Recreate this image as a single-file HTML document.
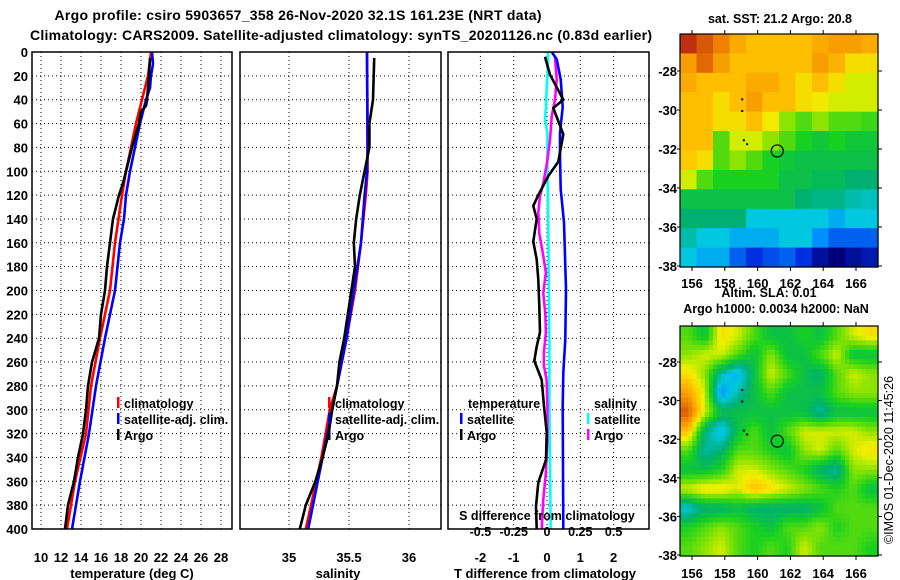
<!DOCTYPE html>
<html><head><meta charset="utf-8"><style>
html,body{margin:0;padding:0;background:#fff;}
svg{display:block;font-family:"Liberation Sans",sans-serif;font-weight:bold;}
</style></head><body>
<svg id="fig" width="900" height="580" viewBox="0 0 900 580" xmlns="http://www.w3.org/2000/svg">
<text x="298" y="20" text-anchor="middle" font-size="14" textLength="487">Argo profile: csiro 5903657_358 26-Nov-2020 32.1S 161.23E (NRT data)</text>
<text x="341" y="40" text-anchor="middle" font-size="14" textLength="622">Climatology: CARS2009. Satellite-adjusted climatology: synTS_20201126.nc (0.83d earlier)</text>
<g id="layer"></g>
</svg>
<script>
// ---------- data ----------
const depthTicks=[0,20,40,60,80,100,120,140,160,180,200,220,240,260,280,300,320,340,360,380,400];
const tempTicks=[10,12,14,16,18,20,22,24,26,28];
const salTicks=[35,35.5,36];
const diffTicks=[-2,-1,0,1,2];
const sdiffTicks=[-0.5,-0.25,0,0.25,0.5];

const argoTDepth=[5,20,40,45,50,60,80,100,110,120,130,140,160,180,200,220,240,260,280,300,320,340,360,380,400];
const argoTemp=[20.9,20.8,20.6,20.5,20.0,19.8,19.1,18.5,18.2,17.8,17.5,17.2,16.9,16.6,16.4,16.0,15.8,15.1,14.7,14.5,14.2,13.7,13.3,12.7,12.4];
const climTDepth=[0,20,40,60,80,100,120,160,200,240,280,320,360,400];
const climTemp=[21.0,20.7,20.1,19.5,19.0,18.5,18.1,17.4,16.9,15.9,15.0,14.5,13.4,12.6];
const satTDepth=[0,10,20,30,40,60,80,100,120,140,160,200,240,280,320,360,400];
const satTemp=[21.1,21.2,21.0,20.9,20.5,19.9,19.4,18.9,18.5,18.3,17.9,17.4,16.4,15.5,14.8,13.9,13.1];

const argoSDepth=[5,40,60,80,100,120,140,160,180,200,220,240,260,280,300,320,340,360,380,400];
const argoSal=[35.71,35.70,35.67,35.67,35.63,35.59,35.56,35.54,35.55,35.52,35.49,35.46,35.42,35.40,35.36,35.33,35.28,35.22,35.14,35.09];
const climSDepth=[0,100,120,160,200,240,280,300,340,400];
const climSal=[35.65,35.655,35.64,35.60,35.55,35.48,35.40,35.34,35.27,35.14];
const satSDepth=[0,80,100,120,160,200,240,280,320,360,400];
const satSal=[35.65,35.656,35.65,35.63,35.60,35.54,35.48,35.40,35.32,35.24,35.16];

const dTDepthSat=[0,6,23,46,68,87,115,143,199,241,269,297,400];
const dTSat=[0.14,0.29,0.41,0.47,0.39,0.39,0.41,0.51,0.57,0.55,0.49,0.47,0.49];
const dTDepthArgo=[4,19,40,47,69,92,104,120,129,140,159,174,191,213,235,247,259,275,297,319,342,361,381,400];
const dTArgo=[-0.06,0.09,0.49,0.19,0.49,0.34,0.04,-0.26,-0.41,-0.31,-0.41,-0.31,-0.26,-0.23,-0.21,-0.31,-0.38,-0.16,-0.09,-0.01,-0.03,-0.26,-0.33,-0.31];
const dSDepthSat=[0,18,46,57,68,101,129,185,241,297,353,400];
const dSSat=[0.01,0.003,-0.008,-0.015,0.003,0.003,0.008,0.013,0.018,0.018,0.023,0.028];
const dSDepthArgo=[4,23,40,54,73,93,110,121,135,152,171,185,202,219,235,252,263,275,297,325,353,375,400];
const dSArgo=[0.06,0.073,0.06,0.035,0.023,0,-0.028,-0.053,-0.065,-0.058,-0.028,-0.008,-0.028,-0.013,-0.008,-0.023,-0.023,-0.003,0.003,0.003,-0.008,-0.028,-0.04];

const lonTicks=[156,158,160,162,164,166];
const latTicks=[-28,-30,-32,-34,-36,-38];
const sstGrid=[
[10,9.5,9,8.3,8,8,8,8,8.3,8.5,8.5,8.3],
[8.5,9.3,8.5,8,8,8,8,8,8.5,8.2,7.5,7.5],
[8.3,8,8,8,8.3,8.3,8,7.5,8,7.5,7,7],
[8,8,7.5,8,8.5,8,8,7.5,7.3,7,7,7],
[8,8,7.5,7.5,8,7.3,6.5,6,6.5,6,6,5.8],
[8,8,6,7,7,6.5,6,5.5,5.2,5.5,5.2,5.2],
[7.8,7.5,6,6.5,6,5.5,5.2,5,5,5,5,5],
[7,6,5.5,5.5,5.5,5.5,5,5,4.8,4.8,4.5,4.5],
[5,5,5,5,5,5,5,4.5,4.3,4.3,4,3.8],
[4.5,4.5,4.5,4.5,3.5,3.5,3.5,3.5,3.5,3,3.5,3.5],
[4,3.5,3.5,3,3,3,3.5,3.5,2.5,2,2,2],
[3.5,3,3,2,1.5,1.8,2,1.5,0.5,0,0.5,0.8]];
const slaGrid=[
[6,5,7.5,7,6,5,5,5.5,5,6,7,7.5],
[6.5,7,7,6,5,6.5,5,5,6,7,5,5],
[7.5,6.5,4,3,5,7,6,5,4.5,6,7,6.5],
[8.5,7,2.5,4,5,6,5,5,5,6,6.5,6.5],
[9.5,7,5,5,5,5,5,5,4,5,5,5],
[8,4.5,3,5,6,5,6,7,7,7,7,6.5],
[6,4,4.5,6,6,5.5,5,6.5,7,6,7,7.5],
[5,5,5.5,7,7,6.5,6,5.5,4.5,4,6.5,6.5],
[7,7.5,7.5,7,8,7.5,7,6.5,6,5.5,6,5],
[3.5,4.5,4.5,5,4.5,4.5,4.5,4.5,5,6,6,6],
[5.5,6,6.5,6,5.5,5,6,6,6.5,5.5,6,6],
[6,6.5,7,6,5.5,6,5.5,7,6,6,6,5.5]];
const floatLon=161.2, floatLat=-32.1;

// ---------- helpers ----------
const NS="http://www.w3.org/2000/svg";
const L=document.getElementById('layer');
function mk(tag,attrs,parent){const e=document.createElementNS(NS,tag);for(const k in attrs)e.setAttribute(k,attrs[k]);(parent||L).appendChild(e);return e;}
function txt(x,y,s,size,anchor,parent){const t=mk('text',{x:x,y:y,'font-size':size,'text-anchor':anchor||'middle'},parent);t.textContent=s;return t;}
const yD=d=>52+d*477/400;
const xT=t=>41+(t-10)*10;
const xS=s=>289+(s-35)*120;
const xDT=v=>547+v*33.3;
const xDS=v=>547+v*4*33.3;

function panel(x0,x1,name,vt,xf,lbl){
  const g=mk('g',{});
  
  
  depthTicks.forEach(d=>{if(d>0&&d<400){const l=mk('line',{x1:x0,x2:x1,y1:yD(d),y2:yD(d),stroke:'#000','stroke-width':1,'stroke-dasharray':'1,3'},g);
    }});
  vt.forEach(v=>{const l=mk('line',{x1:xf(v),x2:xf(v),y1:52,y2:529,stroke:'#000','stroke-width':1,'stroke-dasharray':'1,3'},g);
    
    const t=txt(xf(v),562,lbl(v),13,'middle',g);
    });
  return g;
}
function frame(x0,x1,g){const r=mk('rect',{x:x0,y:52,width:x1-x0,height:477,fill:'none',stroke:'#000','stroke-width':1.5},g);
  }
function line(xs,ds,xf,color,name,g){
  const pts=xs.map((v,i)=>xf(v).toFixed(1)+','+yD(ds[i]).toFixed(1)).join(' ');
  const p=mk('polyline',{points:pts,fill:'none',stroke:color,'stroke-width':2.6,'stroke-linejoin':'round'},g);
  
}
function legItem(x,y,color,label,name,g){
  const m=mk('rect',{x:x,y:y-11,width:2.5,height:11,fill:color},g);
  
  const t=txt(x+7,y,label,12.5,'start',g);
  
}

// depth axis labels
depthTicks.forEach(d=>{const t=txt(28,yD(d)+5,String(d),13,'end');
  });

// panel 1 temperature
const g1=panel(32,232,'temperature-panel',tempTicks,xT,v=>String(v));
line(climTemp,climTDepth,xT,'#ff0000','climatology-temp-line',g1);
line(satTemp,satTDepth,xT,'#0000ff','satellite-temp-line',g1);
line(argoTemp,argoTDepth,xT,'#000000','argo-temp-line',g1);
frame(32,232,g1);
legItem(117,408,'#ff0000','climatology','legend-climatology',g1);
legItem(117,424,'#0000ff','satellite-adj. clim.','legend-satellite',g1);
legItem(117,440,'#000000','Argo','legend-argo',g1);
(()=>{const t=txt(132,578,'temperature (deg C)',13,'middle',g1);})();

// panel 2 salinity
const g2=panel(240,441,'salinity-panel',salTicks,xS,v=>String(v));
line(climSal,climSDepth,xS,'#ff0000','climatology-salinity-line',g2);
line(satSal,satSDepth,xS,'#0000ff','satellite-salinity-line',g2);
line(argoSal,argoSDepth,xS,'#000000','argo-salinity-line',g2);
frame(240,441,g2);
legItem(328,408,'#ff0000','climatology','legend-climatology-sal',g2);
legItem(328,424,'#0000ff','satellite-adj. clim.','legend-satellite-sal',g2);
legItem(328,440,'#000000','Argo','legend-argo-sal',g2);
(()=>{const t=txt(338,578,'salinity',13,'middle',g2);})();

// panel 3 differences
const g3=panel(448,649,'difference-panel',diffTicks,xDT,v=>String(v));
line(dSSat,dSDepthSat,xDS,'#00ffff','salinity-satellite-diff-line',g3);
line(dSArgo,dSDepthArgo,xDS,'#ff00ff','salinity-argo-diff-line',g3);
line(dTSat,dTDepthSat,xDT,'#0000ff','temp-satellite-diff-line',g3);
line(dTArgo,dTDepthArgo,xDT,'#000000','temp-argo-diff-line',g3);
frame(448,649,g3);
(()=>{let t=txt(468,408,'temperature',12.5,'start',g3);
 t=txt(594,408,'salinity',12.5,'start',g3);})();
legItem(460,424,'#0000ff','satellite','legend-temp-satellite',g3);
legItem(460,440,'#000000','Argo','legend-temp-argo',g3);
legItem(587,424,'#00ffff','satellite','legend-sal-satellite',g3);
legItem(587,440,'#ff00ff','Argo','legend-sal-argo',g3);
(()=>{let t=txt(547,520,'S difference from climatology',12.5,'middle',g3);})();
sdiffTicks.forEach(v=>{const t=txt(xDS(v),536,String(v),12.5,'middle',g3);
  });
(()=>{const t=txt(545,578,'T difference from climatology',13,'middle',g3);})();

// ---------- maps ----------
const stops=[[0,[0,0,122]],[1.5,[0,48,224]],[2.5,[0,144,255]],[3.5,[0,200,224]],[4.5,[0,176,112]],[5.5,[24,208,32]],[6.5,[140,228,0]],[7.2,[240,240,0]],[8,[255,190,0]],[9,[240,128,0]],[10,[190,48,16]]];
function cmap(v){for(let i=1;i<stops.length;i++){if(v<=stops[i][0]){const a=stops[i-1],b=stops[i],f=(v-a[0])/(b[0]-a[0]);
  const c=a[1].map((x,k)=>Math.round(x+(b[1][k]-x)*f));return 'rgb('+c.join(',')+')';}}return 'rgb(190,48,16)';}
function sample(grid,r,c){ // bilinear lookup at fractional cell coords (cell centres)
  const R=grid.length,C=grid[0].length;
  r=Math.max(0,Math.min(R-1,r));c=Math.max(0,Math.min(C-1,c));
  const r0=Math.floor(r),c0=Math.floor(c),r1=Math.min(R-1,r0+1),c1=Math.min(C-1,c0+1),fr=r-r0,fc=c-c0;
  return grid[r0][c0]*(1-fr)*(1-fc)+grid[r0][c1]*(1-fr)*fc+grid[r1][c0]*fr*(1-fc)+grid[r1][c1]*fr*fc;
}
function map(name,grid,top,bottom,lat28y,pxLat,labY,sub){
  const g=mk('g',{});
  
  
  const x0=680,x1=878,rows=grid.length*sub,cols=grid[0].length*sub,cw=(x1-x0)/cols,ch=(bottom-top)/rows;
  for(let r=0;r<rows;r++)for(let c=0;c<cols;c++){
    const v=sub===1?grid[r][c]:sample(grid,(r+0.5)/sub-0.5,(c+0.5)/sub-0.5);
    const e=mk('rect',{x:(x0+c*cw).toFixed(2),y:(top+r*ch).toFixed(2),width:(cw+0.6).toFixed(2),height:(ch+0.6).toFixed(2),fill:cmap(v)},g);
    
    
  }
  const lx=lon=>692+(lon-156)*16.4, ly=lat=>lat28y+(-28-lat)*pxLat;
  const fr=mk('rect',{x:x0,y:top,width:x1-x0,height:bottom-top,fill:'none',stroke:'#000','stroke-width':1.2},g);
  
  lonTicks.forEach(lon=>{mk('line',{x1:lx(lon),x2:lx(lon),y1:top,y2:top-4,stroke:'#000'},g);mk('line',{x1:lx(lon),x2:lx(lon),y1:bottom,y2:bottom+4,stroke:'#000'},g);
    const t=txt(lx(lon),labY,String(lon),13,'middle',g);});
  latTicks.forEach(lat=>{mk('line',{x1:x1,x2:x1+4,y1:ly(lat),y2:ly(lat),stroke:'#000'},g);mk('line',{x1:x0,x2:x0-3,y1:ly(lat),y2:ly(lat),stroke:'#000'},g);
    const t=txt(677,ly(lat)+5,String(lat),13,'end',g);});
  [[159,-29.4],[159,-30],[159.1,-31.5],[159.3,-31.7]].forEach(p=>mk('rect',{x:lx(p[0]),y:ly(p[1]),width:2,height:2,fill:'#000'},g));
  const c=mk('circle',{cx:lx(floatLon),cy:ly(floatLat),r:6,fill:'none',stroke:'#000','stroke-width':1.2},g);
  
  return g;
}
map('sst-map',sstGrid,34,267,71,19.5,288,1);
map('sla-map',slaGrid,326,556,362,19.3,578,4);
(()=>{let t=txt(780,23,'sat. SST: 21.2 Argo: 20.8',12.5);
 t=txt(769,297,'Altim. SLA: 0.01',12.5);
 t=txt(776,313,'Argo h1000: 0.0034 h2000: NaN',12.5);
 t=txt(0,0,'©IMOS 01-Dec-2020 11:45:26',12.5,'middle');t.setAttribute('transform','translate(893,460) rotate(-90)');t.setAttribute('font-weight','normal');
 })();
</script>
</body></html>
